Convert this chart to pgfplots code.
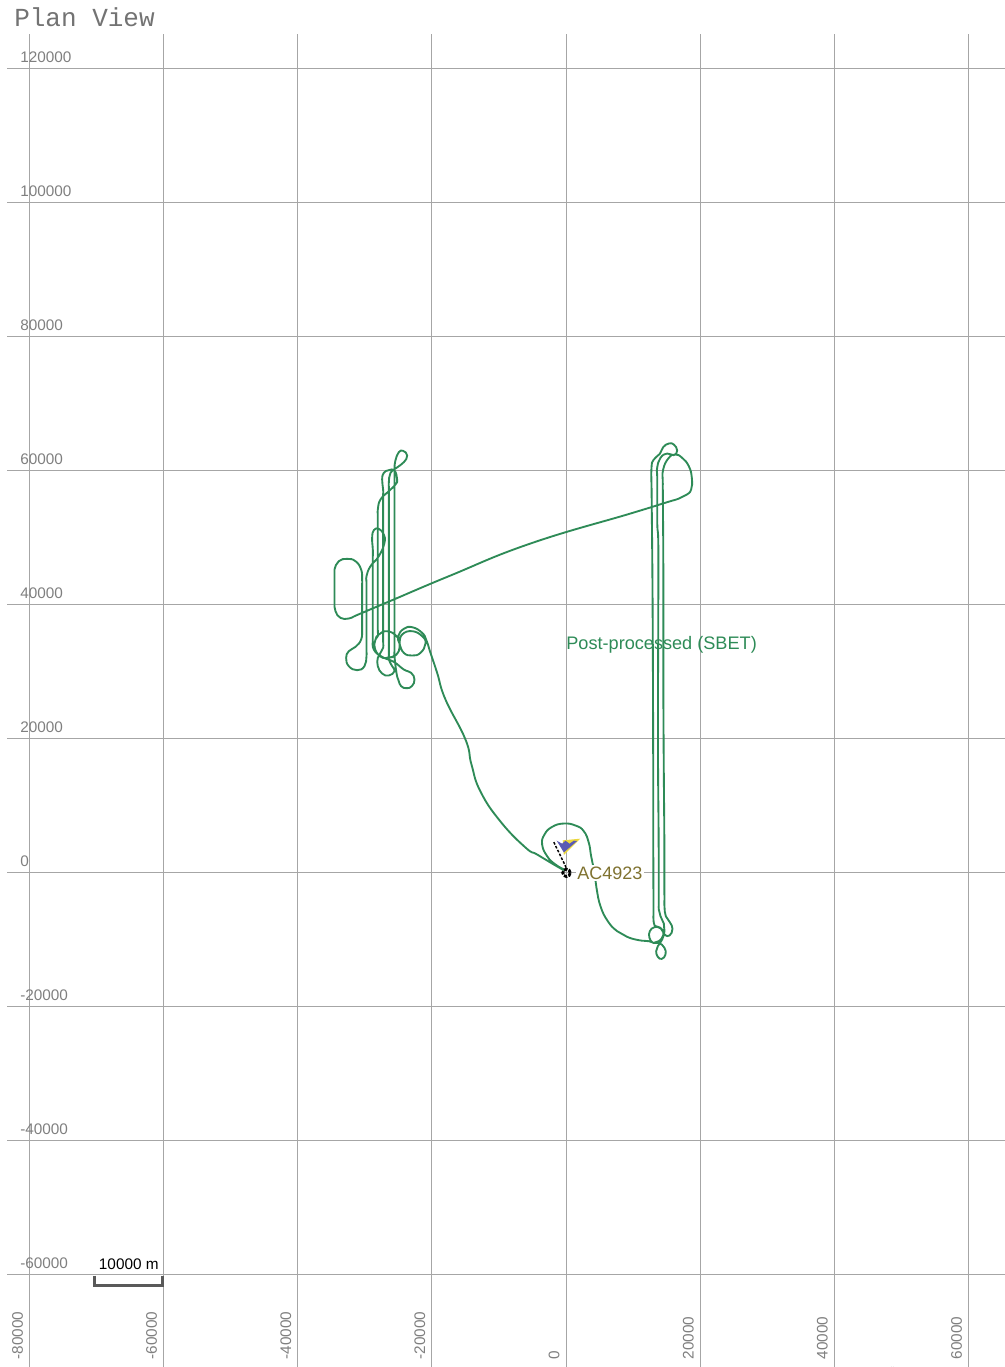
\documentclass[border=0pt]{standalone}
\usepackage{pgfplots}
\pgfplotsset{compat=1.18}
\usepackage{fontspec}
\setmainfont{Liberation Sans}
\newfontfamily\monof{Liberation Mono}
\definecolor{gridc}{HTML}{A6A6A6}
\definecolor{tickc}{HTML}{7F7F7F}
\definecolor{track}{HTML}{2E8B57}
\definecolor{aclab}{HTML}{7F7230}
\begin{document}
\begin{tikzpicture}
\path[use as bounding box] (0,0) rectangle (753.75pt,1025.25pt);
\begin{axis}[
  at={(5.25pt,0pt)}, anchor=south west, scale only axis,
  width=748.5pt, height=999.75pt,
  xmin=-83358, xmax=65444, ymin=-73800, ymax=125151,
  axis line style={draw=none}, major tick length=0pt,
  grid=major, grid style={draw=gridc, line width=0.75pt},
  xtick={-80000,-60000,-40000,-20000,0,20000,40000,60000},
  xticklabels={-80000,-60000,-40000,-20000,0,20000,40000,60000},
  ytick={-60000,-40000,-20000,0,20000,40000,60000,80000,100000,120000},
  yticklabels={-60000,-40000,-20000,0,20000,40000,60000,80000,100000,120000},
  xticklabel style={rotate=90, anchor=west, inner sep=0pt, xshift=5.5pt, yshift=9pt,
    text=tickc, font=\fontsize{11.5}{13}\selectfont},
  yticklabel style={anchor=south west, inner sep=0pt, xshift=9.75pt, yshift=4.5pt,
    text=tickc, font=\fontsize{11.5}{13}\selectfont},
  clip=false,
]
\addplot[color=track, line width=1.4pt, smooth, tension=0.8, line join=round] coordinates {
(-89,348)(-1581,1194)(-2823,2437)(-3569,4179)(-3221,5671)(-2077,6815)(-338,7313)(1401,7014)(2644,6169)(3390,4427)(3737,2437)(4234,-50)(4533,-2289)(5129,-5025)(6222,-7264)(7614,-8756)(9105,-9602)(10845,-10100)(12336,-10249)
(13081,-10498)(13827,-10249)(14473,-9403)(14323,-8508)(13578,-8110)(13081,-7513)(13040,-5500)(13031,-4030)(13020,-1500)(13000,5000)(12980,20000)(12900,40000)(12780,54000)(12750,57000)(12733,60397)
(13081,61641)(13976,62486)(14473,63481)(15318,64029)(16063,63879)(16560,62984)(16063,62287)(15069,62536)(14075,61889)(13578,60397)(13590,59000)(13595,56500)
(13600,52000)(13750,49000)(13750,40000)(13700,20000)(13800,5000)(13815,-2000)(13820,-4500)(13827,-5523)
(14075,-6518)(14572,-7612)(14671,-8756)(14323,-10000)(13677,-10995)(13429,-11741)(13677,-12587)(14274,-12886)(14820,-12239)(14671,-11244)(13827,-10498)(12981,-10498)(12435,-9751)(12485,-8756)(13180,-8159)(14075,-8259)(14671,-9254)(15417,-9403)(15864,-8408)(15466,-7413)(14870,-6518)(14671,-5125)(14665,-4000)(14660,-1500)
(14650,5000)(14550,18000)(14500,30000)(14500,45000)(14440,55000)(14423,58000)(14473,60148)
(15318,61889)(16311,62387)(17306,61889)(18299,60646)(18747,58904)(18647,57163)(17900,56350)(16800,55800)(15000,55250)
(9602,53581)(-5308,49103)(-17236,44327)(-25933,40645)(-29000,39350)(-31300,38370)(-32394,37909)
(-33637,38009)(-34383,39004)(-34532,40247)(-34532,41200)(-34532,42700)(-34532,44300)(-34532,45222)(-33885,46466)(-32643,46814)(-31401,46466)(-30556,45222)(-30407,43730)(-30407,42800)(-30407,40500)(-30407,38500)(-30407,37200)(-30407,36267)(-30556,34775)(-31401,33680)(-32394,33034)(-32792,32039)(-32394,30795)(-31152,30198)(-30059,30795)(-29760,32287)(-29760,33200)(-29760,35500)
(-29760,41000)(-29760,43300)(-29760,44227)(-29164,45720)(-27922,47212)(-27077,49202)(-27176,50446)(-27922,51292)(-28667,51093)(-28915,49949)(-28816,48207)(-28816,47200)(-28816,45000)
(-28816,38000)(-28816,35800)(-28816,34775)(-28667,33282)(-27425,32188)(-25686,31442)(-24196,30297)(-23100,29800)(-22604,28805)(-23000,27810)(-23797,27512)(-24592,27810)(-24990,28705)(-25288,29800)(-25585,32287)(-25585,33200)(-25585,35500)
(-25585,56500)(-25585,58800)(-25585,59650)(-25585,60396)(-25436,61540)(-24940,62734)(-24294,62934)(-23697,62237)(-24196,61242)(-25287,60396)(-26182,59650)(-26430,58158)(-26430,57200)(-26430,55000)
(-26430,35000)(-26430,32700)(-26430,31790)(-25933,30795)(-25585,30050)(-26430,29403)(-27425,29701)(-28071,30795)(-28071,32039)(-27673,32785)(-27275,33531)(-27275,34500)(-27275,37000)
(-27275,54000)(-27275,56200)(-27275,57162)(-27425,58655)(-27176,59650)(-26430,60048)(-25585,60000)(-25188,58655)(-25436,57909)(-26430,56914)(-27673,55670)(-28071,54177)(-28071,53200)(-28071,51000)
(-28071,38500)(-28071,36200)(-28071,35272)(-28418,34775)(-28518,33531)(-27772,32287)(-26679,32039)(-25287,32536)(-24790,34029)(-25287,35272)(-26679,36019)(-27922,35521)(-28418,34775)(-28518,33531)(-27772,32287)(-26679,32039)(-25287,32536)(-24840,33531)(-24840,34178)
(-24443,35521)(-22952,36019)(-21461,35272)(-20964,34178)(-21709,32785)(-22952,32387)(-24196,32785)(-24840,34178)(-25039,35272)(-24196,36367)(-22952,36616)(-21461,35770)(-20815,34626)
(-20218,32785)(-19224,29800)(-17981,25820)(-14999,19850)(-14105,16119)(-12763,12089)(-9781,7612)(-6053,3731)(-4314,2687)(-1829,1194)(-338,348)
};
% aircraft symbol
\addplot[fill={rgb,255:red,235;green,215;blue,60}, draw=none] coordinates {
(-500,4800)(2100,5050)(-338,2600)(-500,4800)};
\addplot[fill={rgb,255:red,90;green,90;blue,180}, draw=none] coordinates {
(-1400,4750)(-587,4300)(-89,4750)(507,4300)(1153,4750)(1650,4700)(-338,3000)(-1400,4750)};
\addplot[color=white, line width=1.4pt] coordinates {(-1829,4527)(159,448)};
\addplot[color=black, line width=1.1pt, dash pattern=on 2pt off 1.2pt] coordinates {(-1829,4527)(159,448)};
\addplot[only marks, mark=o, mark size=2.8pt, mark options={draw=black, line width=2.1pt, dash pattern=on 2.6pt off 1pt}] coordinates {(59,-50)};
% scale bar
\addplot[color=black!65, line width=2.2pt, line join=miter] coordinates {(-70316,-60150)(-70316,-61600)(-60177,-61600)(-60177,-60150)};
\node[anchor=west, inner sep=0pt, text=track, font=\fontsize{13.6}{15}\selectfont] at (axis cs:0,34030) {Post-processed (SBET)};
\node[anchor=west, inner sep=1pt, fill=white, text=aclab, font=\fontsize{13.5}{15}\selectfont] at (axis cs:1450,-100) {AC4923};
\node[anchor=base, inner sep=0pt, text=black, font=\fontsize{11.5}{13}\selectfont] at (axis cs:-65200,-59300) {10000 m};
\end{axis}
\node[anchor=base west, inner sep=0pt, text=black!55, font=\monof\fontsize{19.5}{22}\selectfont] at (10.5pt,1005pt) {Plan View};
\end{tikzpicture}
\end{document}
